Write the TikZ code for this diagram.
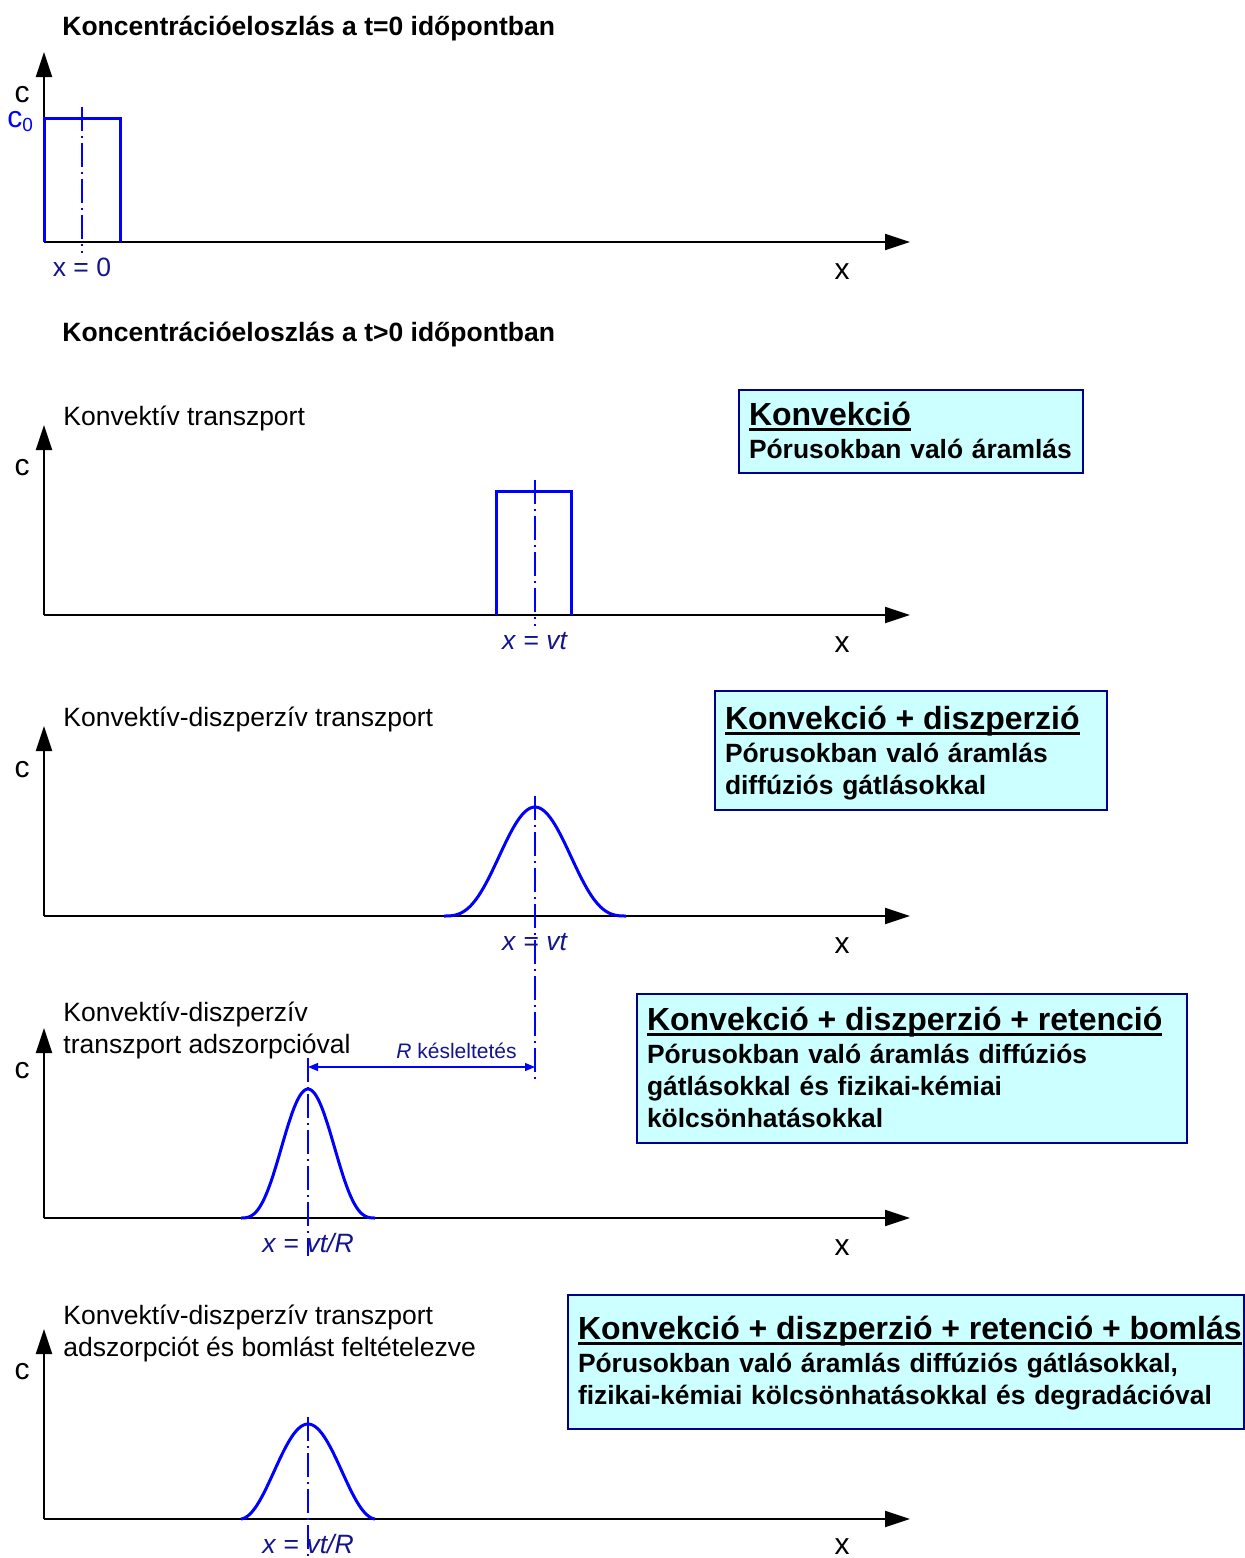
\documentclass[tikz,border=0pt]{standalone}
\usepackage{fontspec}
\setmainfont{Liberation Sans}
\usetikzlibrary{arrows.meta}
\definecolor{labelblue}{RGB}{20,20,140}
\definecolor{boxfill}{RGB}{204,255,255}
\definecolor{boxline}{RGB}{0,0,140}
% underlined box heading, the rule sits just under the baseline
\newcommand\boxhead[2][12.5pt]{{\fontsize{16}{19}\selectfont\rule{0pt}{#1}%
  \setbox0\hbox{#2}\rlap{\rule[-3pt]{\wd0}{1.4pt}}\box0}}
% extra room under the last line of a box
\newcommand\boxfoot[1]{\rule[-#1]{0pt}{#1}}

\begin{document}
\begin{tikzpicture}[x=0.5pt, y=-0.5pt,
  axis/.style={line width=1pt, -{Triangle[length=12.5pt,width=8pt]}},
  pulse/.style={blue, line width=1.5pt},
  centre/.style={blue, line width=0.7pt, dash pattern=on 12pt off 2.5pt on 1pt off 2.5pt},
  axlabel/.style={anchor=base, inner sep=0pt, font=\fontsize{15}{18}\selectfont},
  poslabel/.style={anchor=base, inner sep=0pt, text=labelblue, font=\fontsize{13.25}{16}\selectfont},
  caption/.style={anchor=base west, inner sep=0pt, align=left, font=\fontsize{13.25}{16}\selectfont},
  title/.style={anchor=base west, inner sep=0pt, font=\fontsize{13.25}{16}\selectfont\bfseries},
  info/.style={draw=boxline, line width=1pt, fill=boxfill, anchor=north west,
               text width=#1, align=left, inner xsep=5pt, inner ysep=5pt,
               font=\fontsize{13.2}{16}\selectfont\bfseries}]
  \useasboundingbox (0,0) rectangle (1244,1558);

  % t = 0
  \node[title] (title0) at (62,35) {Koncentrációeloszlás a t=0 időpontban};
  \draw[axis] (44,242) -- (44,52);
  \draw[axis] (44,242) -- (910,242);
  \draw[pulse] (44,242) -- (44,118) -- (120,118) -- (120,242);
  \draw[centre] (82,107) -- (82,253);
  \node[axlabel] (c1) at (22,102) {c};
  \node[axlabel, text=blue, anchor=base west] (c0) at (7,127) {c\raisebox{-2pt}{\fontsize{9.5}{10}\selectfont 0}};
  \node[axlabel] (x1) at (842,279) {x};
  \node[poslabel] (pos1) at (82,276) {x = 0};

  \node[title] (title1) at (62,341) {Koncentrációeloszlás a t>0 időpontban};

  % convection
  \node[caption] (cap2) at (63,425) {Konvektív transzport};
  \draw[axis] (44,615) -- (44,425);
  \draw[axis] (44,615) -- (910,615);
  \draw[pulse] (496,615) -- (496,491) -- (571,491) -- (571,615);
  \draw[centre] (535,480) -- (535,626);
  \node[axlabel] (c2) at (22,475) {c};
  \node[axlabel] (x2) at (842,652) {x};
  \node[poslabel] (pos2) at (535,649) {\textit{x} = \textit{vt}};
  \node[info=162pt] (konv) at (738,389) {\boxhead{Konvekció}\\[0.5pt]
    Pórusokban való áramlás\boxfoot{2.3pt}};

  % convection + dispersion
  \node[caption] (cap3) at (63,726) {Konvektív-diszperzív transzport};
  \draw[axis] (44,916) -- (44,726);
  \draw[axis] (44,916) -- (910,916);
  \draw[pulse] plot[domain=444:626, samples=80, smooth] (\x, {916-109*cos(90*(\x-535)/92)^3});
  \draw[centre] (535,796) -- (535,1081);
  \node[axlabel] (c3) at (22,777) {c};
  \node[axlabel] (x3) at (842,953) {x};
  \node[poslabel] (pos3) at (535,950) {\textit{x} = \textit{vt}};
  \node[info=186pt] (disp) at (714,690) {\boxhead[14pt]{Konvekció + diszperzió}\\[0.5pt]
    Pórusokban való áramlás\\ diffúziós gátlásokkal};

  % with adsorption
  \node[caption] (cap4) at (63,1053) {Konvektív-diszperzív\\transzport adszorpcióval};
  \draw[axis] (44,1218) -- (44,1028);
  \draw[axis] (44,1218) -- (910,1218);
  \draw[pulse] plot[domain=241:375, samples=80, smooth] (\x, {1218-129*cos(90*(\x-308)/68)^3});
  \draw[centre] (308,1058) -- (308,1256);
  \node[axlabel] (c4) at (22,1078) {c};
  \node[axlabel] (x4) at (842,1255) {x};
  \node[poslabel] (pos4) at (308,1252) {\textit{x} = \textit{vt/R}};
  \coordinate (delay0) at (308,1067);
  \coordinate (delay1) at (535,1067);
  \draw[blue, line width=0.6pt, {Triangle[length=5pt,width=4pt]}-{Triangle[length=5pt,width=4pt]}]
    (delay0) -- (delay1);
  \node[anchor=base west, inner sep=0pt, text=labelblue, font=\fontsize{10.5}{12}\selectfont]
    (delay) at (396,1058) {\textit{R} késleltetés};
  \node[info=265pt] (ret) at (636,993) {\boxhead[13pt]{Konvekció + diszperzió + retenció}\\[0.5pt]
    Pórusokban való áramlás diffúziós\\ gátlásokkal és fizikai-kémiai\\ kölcsönhatásokkal\boxfoot{3.2pt}};

  % with adsorption and decay
  \node[caption] (cap5) at (63,1356) {Konvektív-diszperzív transzport\\adszorpciót és bomlást feltételezve};
  \draw[axis] (44,1519) -- (44,1329);
  \draw[axis] (44,1519) -- (910,1519);
  \draw[pulse] plot[domain=241:375, samples=80, smooth] (\x, {1519-95*cos(90*(\x-308)/68)^2});
  \draw[centre] (308,1417) -- (308,1556);
  \node[axlabel] (c5) at (22,1379) {c};
  \node[axlabel] (x5) at (842,1554) {x};
  \node[poslabel] (pos5) at (308,1553) {\textit{x} = \textit{vt/R}};
  \node[info=328pt] (bomlas) at (567,1294) {\boxhead[17pt]{Konvekció + diszperzió + retenció + bomlás}\\[0.5pt]
    Pórusokban való áramlás diffúziós gátlásokkal,\\ fizikai-kémiai kölcsönhatásokkal és degradációval\boxfoot{7.7pt}};
\end{tikzpicture}
\end{document}
